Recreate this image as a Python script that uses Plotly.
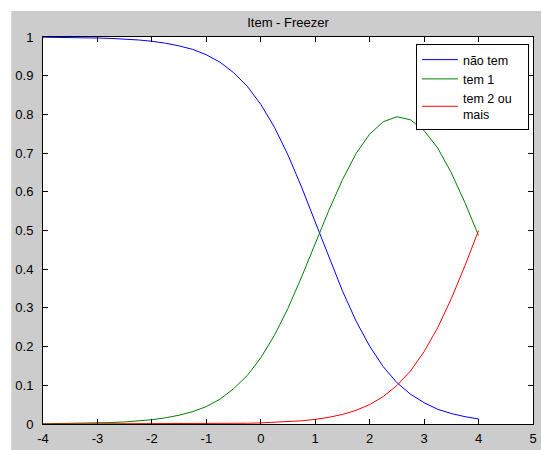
import plotly.graph_objects as go

theta = [-4.0, -3.75, -3.5, -3.25, -3.0, -2.75, -2.5, -2.25, -2.0, -1.75, -1.5, -1.25,
         -1.0, -0.75, -0.5, -0.25, 0.0, 0.25, 0.5, 0.75, 1.0, 1.25, 1.5, 1.75,
         2.0, 2.25, 2.5, 2.75, 3.0, 3.25, 3.5, 3.75, 4.0]

nao_tem = [0.9994, 0.9992, 0.9988, 0.9982, 0.9974, 0.9963, 0.9947, 0.9924, 0.989, 0.984,
           0.977, 0.968, 0.954, 0.935, 0.908, 0.873, 0.826, 0.767, 0.695, 0.612, 0.522,
           0.431, 0.344, 0.266, 0.201, 0.148, 0.107, 0.077, 0.055, 0.038, 0.027, 0.019, 0.013]

tem_1 = [0.0006, 0.0009, 0.0012, 0.0018, 0.0026, 0.0037, 0.0053, 0.0076, 0.011, 0.016,
         0.0227, 0.032, 0.045, 0.064, 0.091, 0.125, 0.171, 0.229, 0.299, 0.380, 0.466,
         0.552, 0.631, 0.699, 0.749, 0.781, 0.794, 0.786, 0.758, 0.713, 0.649, 0.572, 0.487]

tem_2 = [0.0, 0.0, 0.0, 0.0, 0.0, 0.0, 0.0, 0.0, 0.0, 0.0, 0.0, 0.0,
         0.0006, 0.0009, 0.0013, 0.0019, 0.0028, 0.0040, 0.0058, 0.0083, 0.012,
         0.0172, 0.0247, 0.0353, 0.0502, 0.0709, 0.0993, 0.137, 0.187, 0.249, 0.324, 0.409, 0.5]

names = ["não tem", "tem 1", "tem 2 ou\u00a0\u00a0\u00a0<br>mais"]
colors = ["#0000ff", "#008000", "#ff0000"]
x_ticks = [-4, -3, -2, -1, 0, 1, 2, 3, 4, 5]
y_ticks = [0, 0.1, 0.2, 0.3, 0.4, 0.5, 0.6, 0.7, 0.8, 0.9, 1]
y_labels = ["0", "0.1", "0.2", "0.3", "0.4", "0.5", "0.6", "0.7", "0.8", "0.9", "1"]

fig = go.Figure()
for ys, nm, c in zip([nao_tem, tem_1, tem_2], names, colors):
    fig.add_trace(go.Scatter(x=theta, y=ys, mode="lines", name=nm,
                             line=dict(color=c, width=1)))

font = "Liberation Sans, Arial, sans-serif"
fig.update_layout(
    width=541, height=450,
    margin=dict(l=43, r=4, t=37, b=26),
    paper_bgcolor="#cccccc",
    plot_bgcolor="#ffffff",
    font=dict(family=font, size=13, color="#000000"),
    title=dict(text="Item - Freezer", x=0.5, xref="paper", xanchor="center",
               y=1 - 22 / 450, yref="container", yanchor="middle",
               font=dict(family=font, size=13, color="#000000")),
    showlegend=True,
    legend=dict(x=(419 - 43) / 494, y=(424 - 44) / 387, xanchor="left", yanchor="top",
                bgcolor="#ffffff", bordercolor="#000000", borderwidth=1,
                font=dict(family=font, size=12.5, color="#000000"),
                itemwidth=36, tracegroupgap=0),
    xaxis=dict(range=[-4, 5], tickvals=x_ticks, ticktext=[str(v) for v in x_ticks],
               showgrid=False, zeroline=False, showline=True, linecolor="#000000",
               linewidth=1, mirror="ticks", ticks="inside", ticklen=5,
               tickcolor="#000000", ticklabelstandoff=2,
               tickfont=dict(family=font, size=13, color="#000000")),
    yaxis=dict(range=[0, 1], tickvals=y_ticks, ticktext=y_labels,
               showgrid=False, zeroline=False, showline=True, linecolor="#000000",
               linewidth=1, mirror="ticks", ticks="inside", ticklen=5,
               tickcolor="#000000", ticklabelstandoff=6,
               tickfont=dict(family=font, size=13, color="#000000")),
    shapes=[
        dict(type="rect", xref="paper", yref="paper", x0=-0.2, x1=(11 - 43) / 494,
             y0=-0.2, y1=1.3, fillcolor="#ffffff", line=dict(width=0), layer="below"),
        dict(type="rect", xref="paper", yref="paper", x0=-0.2, x1=1.2,
             y0=(424 - 11) / 387, y1=1.3, fillcolor="#ffffff", line=dict(width=0), layer="below"),
    ],
)

fig.write_html("out.html", config={"displayModeBar": False},
               post_script="document.body.style.margin='0';document.body.style.padding='0';")
